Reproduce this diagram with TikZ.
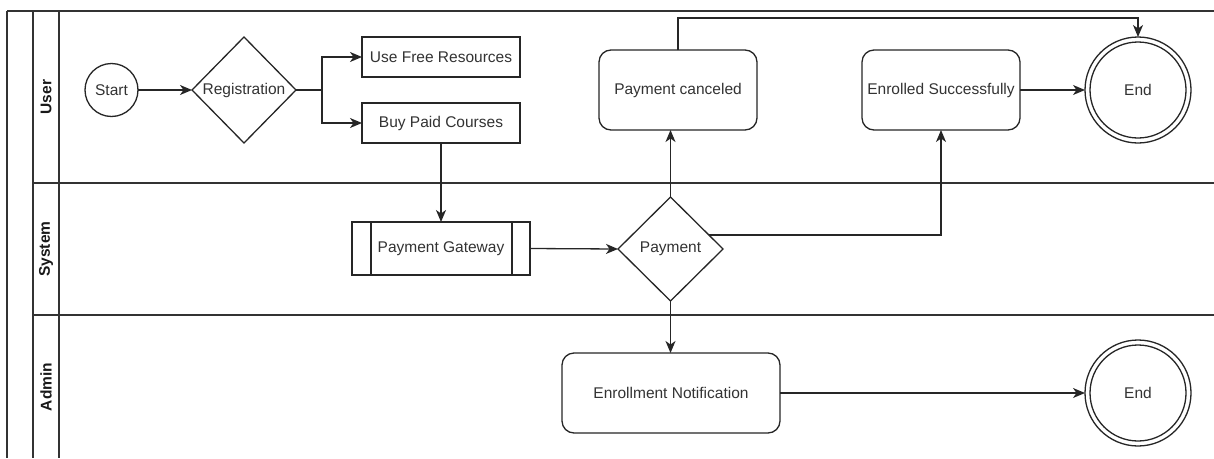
\documentclass[tikz,border=0pt]{standalone}
\usepackage{fontspec}
\setmainfont{Liberation Sans}
\usetikzlibrary{shapes.geometric,arrows.meta,calc}
\begin{document}
\begin{tikzpicture}[x=1pt,y=-1pt,
  ln/.style={draw=black!85, line width=1.3pt},
  arr/.style={ln, -{Stealth[length=12pt,width=10pt,inset=3.5pt]}},
  lane/.style={draw=black!80, line width=1.4pt},
  txt/.style={font=\fontsize{15.5}{18}\selectfont, text=black!80},
  lanelbl/.style={font=\fontsize{15.5}{18}\selectfont\bfseries, text=black!90, rotate=90},
  box/.style={txt, ln, fill=white, rectangle, inner sep=0pt, outer sep=0pt},
  rbox/.style={box, rounded corners=12pt},
  dia/.style={txt, ln, fill=white, diamond, inner sep=0pt, outer sep=0pt},
  startc/.style={txt, ln, fill=white, circle, inner sep=0pt, outer sep=0pt, minimum size=53pt},
  endc/.style={txt, ln, fill=white, circle, inner sep=0pt, outer sep=0pt, minimum size=106pt}]
\useasboundingbox (0,0) rectangle (1214,458);
% swimlanes
\draw[lane] (7,11) -- (1214,11);
\draw[lane] (7,11) -- (7,458);
\draw[lane] (33,11) -- (33,458);
\draw[lane] (59,11) -- (59,458);
\draw[lane] (33,183) -- (1214,183);
\draw[lane] (33,315) -- (1214,315);
\node[lanelbl] (luser) at (46,97) {User};
\node[lanelbl] (lsys) at (46,249) {System};
\node[lanelbl] (ladm) at (46,387) {Admin};
% nodes
\node[startc] (start) at (111.5,90) {Start};
\node[dia, minimum width=104pt, minimum height=106pt] (reg) at (244,90) {Registration};
\node[box, minimum width=158pt, minimum height=40pt] (free) at (441,57) {Use Free Resources};
\node[box, minimum width=158pt, minimum height=40pt] (buy) at (441,123) {Buy Paid Courses};
\node[box, minimum width=178pt, minimum height=53pt] (pg) at (441,248.5) {Payment Gateway};
\draw[ln] ([xshift=19pt]pg.north west) -- ([xshift=19pt]pg.south west);
\draw[ln] ([xshift=-18pt]pg.north east) -- ([xshift=-18pt]pg.south east);
\node[dia, minimum width=105pt, minimum height=104pt] (pay) at (670.5,249) {Payment};
\node[rbox, minimum width=158pt, minimum height=80pt] (cancel) at (678,90) {Payment canceled};
\node[rbox, minimum width=158pt, minimum height=80pt] (enr) at (941,90) {Enrolled Successfully};
\node[rbox, minimum width=218pt, minimum height=80pt] (notif) at (671,393) {Enrollment Notification};
\node[endc] (end1) at (1138,90) {End};
\draw[ln] (end1.center) circle[radius=48pt];
\node[endc] (end2) at (1138,393) {End};
\draw[ln] (end2.center) circle[radius=48pt];
% connectors
\coordinate (sp) at (322,90);
\draw[arr] (start) -- (reg);
\draw[ln] (reg.east) -- (sp);
\draw[arr] (sp) |- (free.west);
\draw[arr] (sp) |- (buy.west);
\draw[arr] (buy.south) -- (pg.north);
\draw[arr] (pg.east) -- (pay.west);
\draw[arr] (pay.north) -- (pay.north |- cancel.south);
\draw[arr] (cancel.north) -- ++(0,-32) -| (end1.north);
\draw[arr] ($(pay.north)!0.73!(pay.east)$) -| (enr.south);
\draw[arr] (enr.east) -- (end1.west);
\draw[arr] (pay.south) -- (pay.south |- notif.north);
\draw[arr] (notif.east) -- (end2.west);
\end{tikzpicture}
\end{document}
